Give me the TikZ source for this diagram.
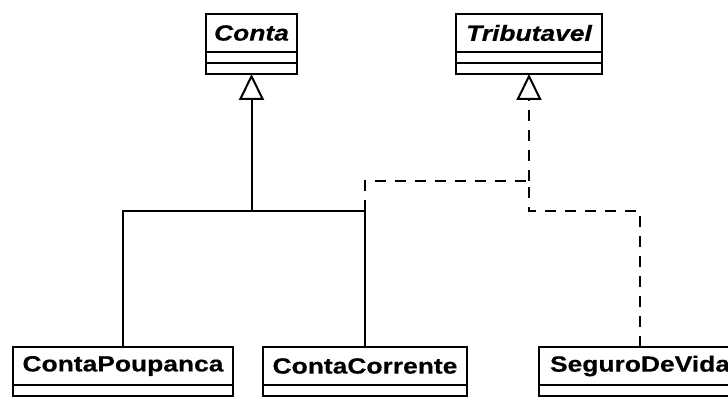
\documentclass[tikz,border=0pt]{standalone}
\usepackage{fontspec}
\usepackage{tikz}
\usetikzlibrary{positioning, arrows.meta}
\newfontfamily\umlfont[FakeStretch=1.2, BoldFeatures={FakeBold=0.4}, BoldItalicFeatures={FakeBold=0.4}]{Liberation Sans}

\tikzset{
  classname/.style={draw, line width=2pt, rectangle, inner sep=0pt, outer sep=0pt,
    minimum height=38pt, anchor=north, font=\umlfont\fontsize{22}{24}\selectfont\bfseries},
  compart/.style={draw, line width=2pt, rectangle, inner sep=0pt, outer sep=0pt,
    minimum height=11pt},
  gen/.style={line width=2pt},
  real/.style={line width=2pt, dash pattern=on 11pt off 9pt},
  hollow/.style={-{Triangle[open, length=26pt, width=25pt, line width=2pt]}}
}

\begin{document}
\begin{tikzpicture}[x=1pt, y=-1pt]
	\useasboundingbox (0,0) rectangle (728,403);
	\clip (0,0) rectangle (728,403);
	% abstract class and interface
	\node[classname, minimum width=91pt] (conta) at (251.5,14) {\itshape Conta};
	\node[compart, minimum width=91pt, below=0pt of conta] (contaattr) {};
	\node[compart, minimum width=91pt, below=0pt of contaattr] (contaops) {};
	\node[classname, minimum width=146pt] (trib) at (529,14) {\itshape Tributavel};
	\node[compart, minimum width=146pt, below=0pt of trib] (tribattr) {};
	\node[compart, minimum width=146pt, below=0pt of tribattr] (tribops) {};
	% concrete classes
	\node[classname, minimum width=220pt] (poupanca) at (123,347) {ContaPoupanca};
	\node[compart, minimum width=220pt, below=0pt of poupanca] (poupattr) {};
	\node[classname, minimum width=204pt] (corrente) at (365,347) {ContaCorrente};
	\node[compart, minimum width=204pt, below=0pt of corrente] (corrattr) {};
	\node[classname, minimum width=202pt] (seguro) at (640,347) {SeguroDeVida};
	\node[compart, minimum width=202pt, below=0pt of seguro] (segattr) {};
	% connectors
	\coordinate (bus) at (0,211);
	\coordinate (upper) at (0,181);
	\draw[gen] (poupanca.north) |- (corrente.north |- bus) -- (corrente.north);
	\draw[gen, hollow] (contaops.south |- bus) -- (contaops.south);
	\draw[real] (corrente.north |- bus) |- (tribops.south |- upper);
	\draw[real, hollow] (tribops.south |- upper) -- (tribops.south);
	\draw[real] (seguro.north) |- (tribops.south |- bus) -- (tribops.south |- upper);
\end{tikzpicture}
\end{document}
